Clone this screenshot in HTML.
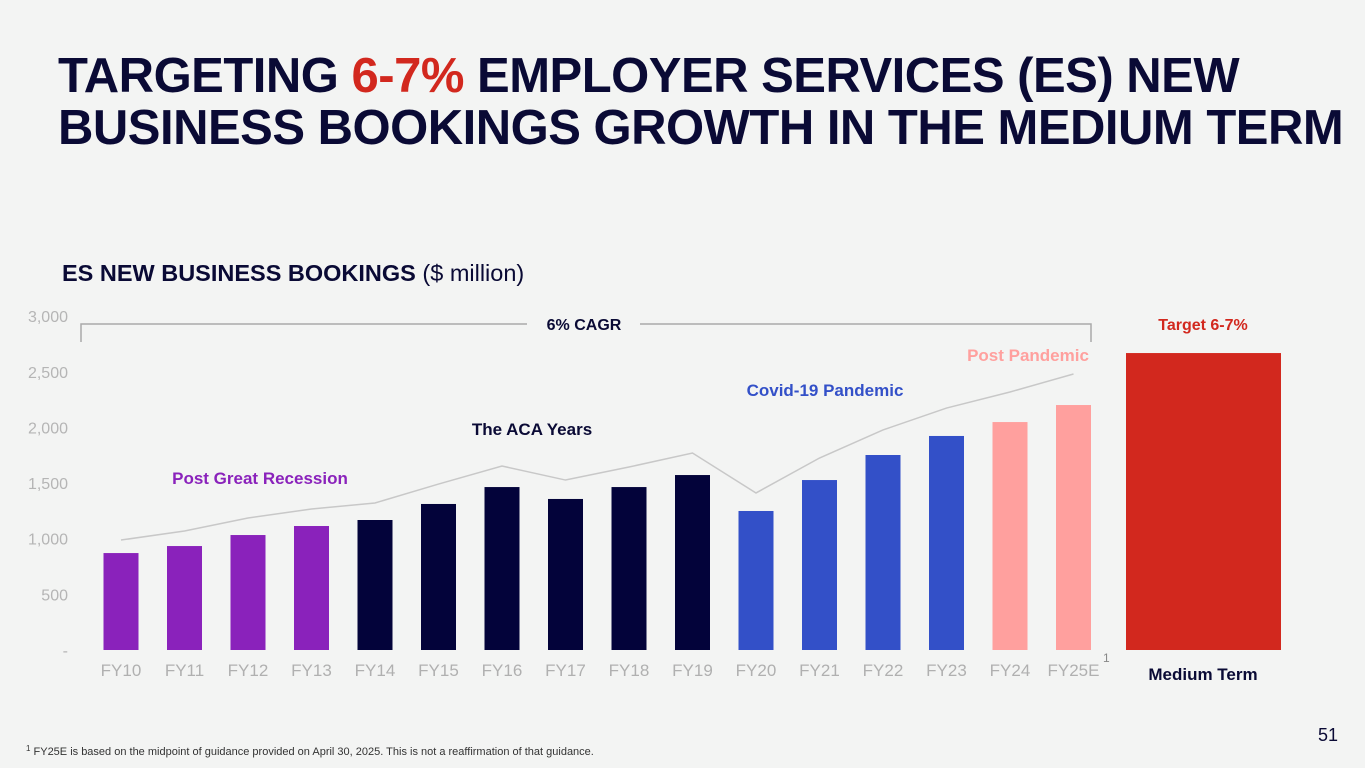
<!DOCTYPE html>
<html><head><meta charset="utf-8"><style>
html,body{margin:0;padding:0;background:#f3f4f3;}
body{width:1365px;height:768px;overflow:hidden;position:relative;font-family:"Liberation Sans",sans-serif;}
.t{position:absolute;left:58px;top:50px;font-size:49px;font-weight:bold;color:#0a0a35;line-height:52px;letter-spacing:-0.5px;white-space:nowrap;}
.t span{color:#d2281e;}
</style></head><body>
<div class="t">TARGETING <span>6-7%</span> EMPLOYER SERVICES (ES) NEW<br>BUSINESS BOOKINGS GROWTH IN THE MEDIUM TERM</div>
<svg id="chart" width="1365" height="768" style="position:absolute;left:0;top:0">
<text x="62" y="281" font-size="23.5" font-weight="bold" fill="#0a0a35">ES NEW BUSINESS BOOKINGS <tspan font-weight="normal">($ million)</tspan></text>
<g id="axis"></g><g id="bars"></g><g id="line"></g>
<path d="M81,342 V324 H527 M640,324 H1091 V342" fill="none" stroke="#aaa" stroke-width="1.5"/>
<text x="584" y="330" font-size="16" font-weight="bold" fill="#0a0a35" text-anchor="middle">6% CAGR</text>
<text x="1203" y="330" font-size="16" font-weight="bold" fill="#d2281e" text-anchor="middle">Target 6-7%</text>
<text x="260" y="484" font-size="17" font-weight="bold" fill="#8a22bb" text-anchor="middle">Post Great Recession</text>
<text x="532" y="435" font-size="17" font-weight="bold" fill="#0a0a35" text-anchor="middle">The ACA Years</text>
<text x="825" y="396" font-size="17" font-weight="bold" fill="#3350c8" text-anchor="middle">Covid-19 Pandemic</text>
<text x="1028" y="361" font-size="17" font-weight="bold" fill="#ffa09e" text-anchor="middle">Post Pandemic</text>
<text x="1203" y="680" font-size="17" font-weight="bold" fill="#0a0a35" text-anchor="middle">Medium Term</text>
<text x="1103" y="662" font-size="12" fill="#888">1</text>
<text x="26" y="755" font-size="11" fill="#333"><tspan font-size="8" dy="-4">1</tspan><tspan dy="4"> FY25E is based on the midpoint of guidance provided on April 30, 2025. This is not a reaffirmation of that guidance.</tspan></text>
<text x="1338" y="741" font-size="18" fill="#0a0a35" text-anchor="end">51</text>
</svg>
<script>
const categories=["FY10","FY11","FY12","FY13","FY14","FY15","FY16","FY17","FY18","FY19","FY20","FY21","FY22","FY23","FY24","FY25E"];
const bookings=[871,934,1033,1114,1168,1312,1464,1357,1464,1572,1249,1527,1752,1923,2048,2201];
const trendLine=[988,1069,1186,1267,1321,1491,1653,1527,1644,1770,1411,1725,1977,2174,2318,2480];
const eraOf=["rec","rec","rec","rec","aca","aca","aca","aca","aca","aca","cov","cov","cov","cov","post","post"];
const mediumTerm=2668;
const yTicks=[0,500,1000,1500,2000,2500,3000];
const yTickLabels=["-","500","1,000","1,500","2,000","2,500","3,000"];
const colors={rec:"#8a22bb",aca:"#03033a",cov:"#3350c8",post:"#ffa09e"};
const NS="http://www.w3.org/2000/svg";
const y=v=>650-v*0.1113;
const x=i=>121+i*63.5;
function mk(t,a,p){const e=document.createElementNS(NS,t);for(const k in a)e.setAttribute(k,a[k]);p.appendChild(e);return e;}
const ax=document.getElementById('axis'),bg=document.getElementById('bars'),lg=document.getElementById('line');
yTicks.forEach((v,i)=>{const t=mk('text',{x:68,y:y(v)+6,'font-size':16,fill:'#b5b5b5','text-anchor':'end'},ax);t.textContent=yTickLabels[i];

});
categories.forEach((c,i)=>{
const r=mk('rect',{x:x(i)-17.5,y:y(bookings[i]),width:35,height:650-y(bookings[i]),fill:colors[eraOf[i]]},bg);


const t=mk('text',{x:x(i),y:676,'font-size':17,fill:'#b0b0b0','text-anchor':'middle'},ax);t.textContent=c;

});
const mr=mk('rect',{x:1126,y:y(mediumTerm),width:155,height:650-y(mediumTerm),fill:'#d2281e'},bg);


const pl=mk('polyline',{points:trendLine.map((v,i)=>x(i)+','+y(v)).join(' '),fill:'none',stroke:'#c8c8c8','stroke-width':1.5},lg);


</script>
</body></html>
